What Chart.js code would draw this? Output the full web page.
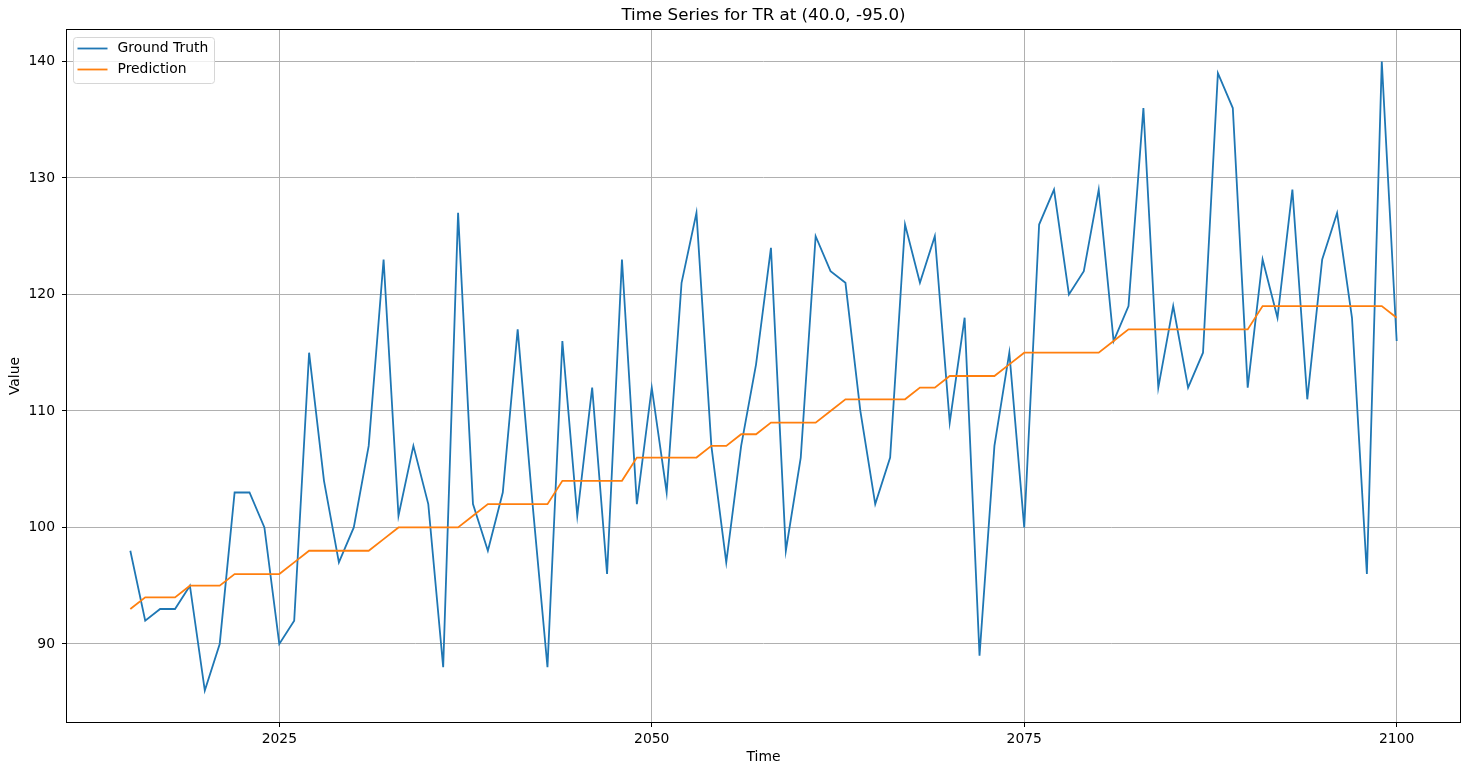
<!DOCTYPE html>
<html>
<head>
<meta charset="utf-8">
<title>Time Series for TR at (40.0, -95.0)</title>
<script src="https://cdn.jsdelivr.net/npm/chart.js@4.4.0/dist/chart.umd.min.js"></script>
<style>
  html, body { margin: 0; padding: 0; background: #ffffff; }
  #wrap { width: 1470px; height: 776px; position: relative; }
</style>
</head>
<body>
<div id="wrap"><canvas id="tsChart" width="1470" height="776"></canvas></div>
<script>
// Données (une valeur par an)
const years = [
  2015, 2016, 2017, 2018, 2019, 2020, 2021, 2022, 2023, 2024,
  2025, 2026, 2027, 2028, 2029, 2030, 2031, 2032, 2033, 2034,
  2035, 2036, 2037, 2038, 2039, 2040, 2041, 2042, 2043, 2044,
  2045, 2046, 2047, 2048, 2049, 2050, 2051, 2052, 2053, 2054,
  2055, 2056, 2057, 2058, 2059, 2060, 2061, 2062, 2063, 2064,
  2065, 2066, 2067, 2068, 2069, 2070, 2071, 2072, 2073, 2074,
  2075, 2076, 2077, 2078, 2079, 2080, 2081, 2082, 2083, 2084,
  2085, 2086, 2087, 2088, 2089, 2090, 2091, 2092, 2093, 2094,
  2095, 2096, 2097, 2098, 2099, 2100
];

const groundTruth = [
   98,  92,  93,  93,  95,  86,  90, 103, 103, 100,
   90,  92, 115, 104,  97, 100, 107, 123, 101, 107,
  102,  88, 127, 102,  98, 103, 117, 102,  88, 116,
  101, 112,  96, 123, 102, 112, 103, 121, 127, 107,
   97, 107, 114, 124,  98, 106, 125, 122, 121, 110,
  102, 106, 126, 121, 125, 109, 118,  89, 107, 115,
  100, 126, 129, 120, 122, 129, 116, 119, 136, 112,
  119, 112, 115, 139, 136, 112, 123, 118, 129, 111,
  123, 127, 118,  96, 140, 116
];

const prediction = [
   93,  94,  94,  94,  95,  95,  95,  96,  96,  96,
   96,  97,  98,  98,  98,  98,  98,  99, 100, 100,
  100, 100, 100, 101, 102, 102, 102, 102, 102, 104,
  104, 104, 104, 104, 106, 106, 106, 106, 106, 107,
  107, 108, 108, 109, 109, 109, 109, 110, 111, 111,
  111, 111, 111, 112, 112, 113, 113, 113, 113, 114,
  115, 115, 115, 115, 115, 115, 116, 117, 117, 117,
  117, 117, 117, 117, 117, 117, 119, 119, 119, 119,
  119, 119, 119, 119, 119, 118
];

const seriesLabels = ['Ground Truth', 'Prediction'];
const xTickValues = [2025, 2050, 2075, 2100];
const yTickValues = [90, 100, 110, 120, 130, 140];
const chartTitle = 'Time Series for TR at (40.0, -95.0)';

document.addEventListener('DOMContentLoaded', function() {
    const FONT = "'DejaVu Sans', sans-serif";
    const LABEL_SIZE = 13.9;
    const TITLE_SIZE = 16.7;

    // Couleurs par défaut de matplotlib
    const colors = ['#1f77b4', '#ff7f0e'];

    const toPoints = (values) => values.map((v, i) => ({ x: years[i], y: v }));

    // Cadre noir, titre centré sur la zone de tracé et légende en haut à gauche
    const mplDecor = {
        id: 'mplDecor',
        afterDraw(chart) {
            const { ctx, chartArea: a } = chart;
            ctx.save();

            ctx.strokeStyle = '#000000';
            ctx.lineWidth = 1;
            const l = Math.round(a.left) - 0.5, t = Math.round(a.top) - 0.5;
            const r = Math.round(a.right) + 0.5, b = Math.round(a.bottom) + 0.5;
            ctx.strokeRect(l, t, r - l, b - t);

            ctx.fillStyle = '#000000';
            ctx.font = TITLE_SIZE + 'px ' + FONT;
            ctx.textAlign = 'center';
            ctx.textBaseline = 'middle';
            ctx.fillText(chartTitle, (a.left + a.right) / 2, 16);

            // légende
            const bx = a.left + 6.5, by = a.top + 7.5, bw = 141, bh = 46;
            ctx.beginPath();
            ctx.roundRect(bx, by, bw, bh, 3);
            ctx.fillStyle = 'rgba(255,255,255,0.8)';
            ctx.fill();
            ctx.strokeStyle = '#d6d6d6';
            ctx.stroke();

            ctx.font = LABEL_SIZE + 'px ' + FONT;
            ctx.textAlign = 'left';
            chart.data.datasets.forEach((ds, i) => {
                const y = by + 11 + i * 21;
                ctx.beginPath();
                ctx.moveTo(bx + 4, y);
                ctx.lineTo(bx + 34, y);
                ctx.strokeStyle = ds.borderColor;
                ctx.lineWidth = 1.8;
                ctx.stroke();
                ctx.fillStyle = '#000000';
                ctx.fillText(ds.label, bx + 44, y);
            });
            ctx.restore();
        }
    };

    const ctx = document.getElementById('tsChart');
    new Chart(ctx, {
        type: 'line',
        data: {
            datasets: [
                {
                    label: seriesLabels[0],
                    data: toPoints(groundTruth),
                    borderColor: colors[0],
                    backgroundColor: colors[0],
                    borderWidth: 1.8,
                    pointRadius: 0,
                    tension: 0,
                    order: 1
                },
                {
                    label: seriesLabels[1],
                    data: toPoints(prediction),
                    borderColor: colors[1],
                    backgroundColor: colors[1],
                    borderWidth: 1.8,
                    pointRadius: 0,
                    tension: 0,
                    order: 0
                }
            ]
        },
        options: {
            responsive: false,
            animation: false,
            devicePixelRatio: 1,
            layout: { padding: { top: 30, right: 10, left: 0, bottom: 0 } },
            plugins: {
                legend: { display: false },
                title: { display: false },
                tooltip: { enabled: false }
            },
            scales: {
                x: {
                    type: 'linear',
                    min: 2010.75,
                    max: 2104.25,
                    afterBuildTicks: (scale) => { scale.ticks = xTickValues.map(v => ({ value: v })); },
                    afterFit: (scale) => { scale.height = 54; },
                    grid: { color: '#b0b0b0', lineWidth: 1, tickColor: '#000000', tickLength: 5 },
                    border: { display: false },
                    ticks: {
                        color: '#000000',
                        padding: 4,
                        maxRotation: 0,
                        font: { family: FONT, size: LABEL_SIZE },
                        callback: (v) => String(v)
                    },
                    title: {
                        display: true,
                        text: 'Time',
                        color: '#000000',
                        font: { family: FONT, size: LABEL_SIZE },
                        padding: { top: 4, bottom: 10 }
                    }
                },
                y: {
                    min: 83.3,
                    max: 142.7,
                    afterBuildTicks: (scale) => { scale.ticks = yTickValues.map(v => ({ value: v })); },
                    afterFit: (scale) => { scale.width = 67; },
                    grid: { color: '#b0b0b0', lineWidth: 1, tickColor: '#000000', tickLength: 5 },
                    border: { display: false },
                    ticks: {
                        color: '#000000',
                        padding: 7,
                        font: { family: FONT, size: LABEL_SIZE },
                        callback: (v) => String(v)
                    },
                    title: {
                        display: true,
                        text: 'Value',
                        color: '#000000',
                        font: { family: FONT, size: LABEL_SIZE },
                        padding: { top: 7, bottom: 4 }
                    }
                }
            }
        },
        plugins: [mplDecor]
    });
});
</script>
</body>
</html>
